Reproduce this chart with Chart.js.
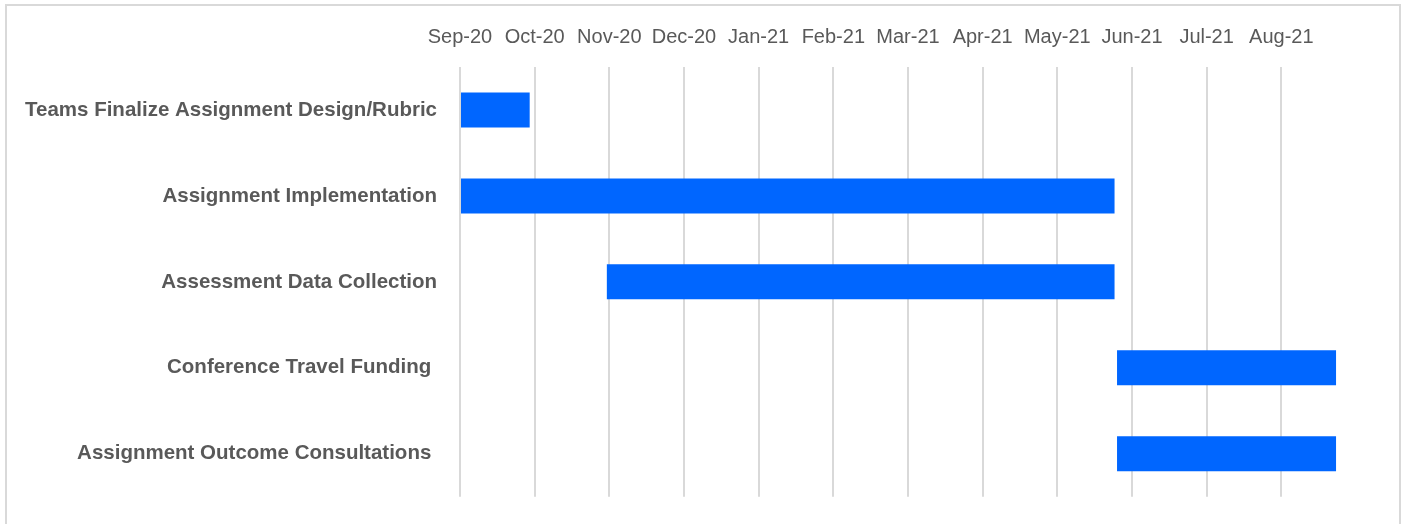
<!DOCTYPE html>
<html>
<head>
<meta charset="utf-8">
<script src="https://cdn.jsdelivr.net/npm/chart.js@4"></script>
<style>
  html, body { margin: 0; padding: 0; background: #fff; overflow: hidden; }
  #wrap { position: absolute; left: 0; top: 0; width: 1406px; height: 524px; }
  #frame { position: absolute; left: 5px; top: 4px; width: 1396px; height: 560px; border: 2px solid #d9d9d9; pointer-events: none; box-sizing: border-box; }
  canvas { position: absolute; left: 0; top: 0; }
</style>
</head>
<body>
<div id="wrap">
  <canvas id="c" width="1406" height="524"></canvas>
  <div id="frame"></div>
</div>
<script>
// Task names (trailing spaces kept as in the source labels)
const categories = [
  "Teams Finalize Assignment Design/Rubric",
  "Assignment Implementation",
  "Assessment Data Collection",
  "Conference Travel Funding ",
  "Assignment Outcome Consultations "
];
// Start / end of each task, in days from the first axis tick (Sep-20)
const startDays = [0, 0, 59, 264, 264];
const endDays   = [28, 263, 263, 352, 352];
// Axis ticks (days from start) and their labels
const tickValues = [0, 30, 60, 90, 120, 150, 180, 210, 240, 270, 300, 330];
const tickLabels = ["Sep-20","Oct-20","Nov-20","Dec-20","Jan-21","Feb-21","Mar-21","Apr-21","May-21","Jun-21","Jul-21","Aug-21"];
const axisMin = 0;
const axisMax = 356;

const spans = categories.map((c, i) => [startDays[i], endDays[i]]);

new Chart(document.getElementById('c'), {
  type: 'bar',
  data: {
    labels: categories,
    datasets: [{
      data: spans,
      backgroundColor: '#0066ff',
      borderWidth: 0,
      barPercentage: 0.407,
      categoryPercentage: 1.0
    }]
  },
  options: {
    indexAxis: 'y',
    responsive: false,
    animation: false,
    layout: { padding: { left: 0, right: 60, top: 0, bottom: 19 } },
    plugins: { legend: { display: false }, tooltip: { enabled: false } },
    scales: {
      x: {
        type: 'linear',
        position: 'top',
        min: axisMin,
        max: axisMax,
        afterBuildTicks: (scale) => { scale.ticks = tickValues.map(v => ({ value: v })); },
        afterFit: (scale) => { scale.height = 67; },
        ticks: {
          autoSkip: false,
          maxRotation: 0,
          padding: 18,
          color: '#595959',
          font: { family: 'Liberation Sans', size: 20 },
          callback: (v) => { const i = tickValues.indexOf(v); return i >= 0 ? tickLabels[i] : ''; }
        },
        grid: { color: '#d9d9d9', lineWidth: 2, drawTicks: false },
        border: { display: false }
      },
      y: {
        afterFit: (scale) => { scale.width = 460; },
        ticks: {
          padding: 15,
          color: '#595959',
          font: { family: 'Liberation Sans', size: 20.5, weight: 'bold' }
        },
        grid: { display: false },
        border: { display: false }
      }
    }
  }
});
</script>
</body>
</html>
